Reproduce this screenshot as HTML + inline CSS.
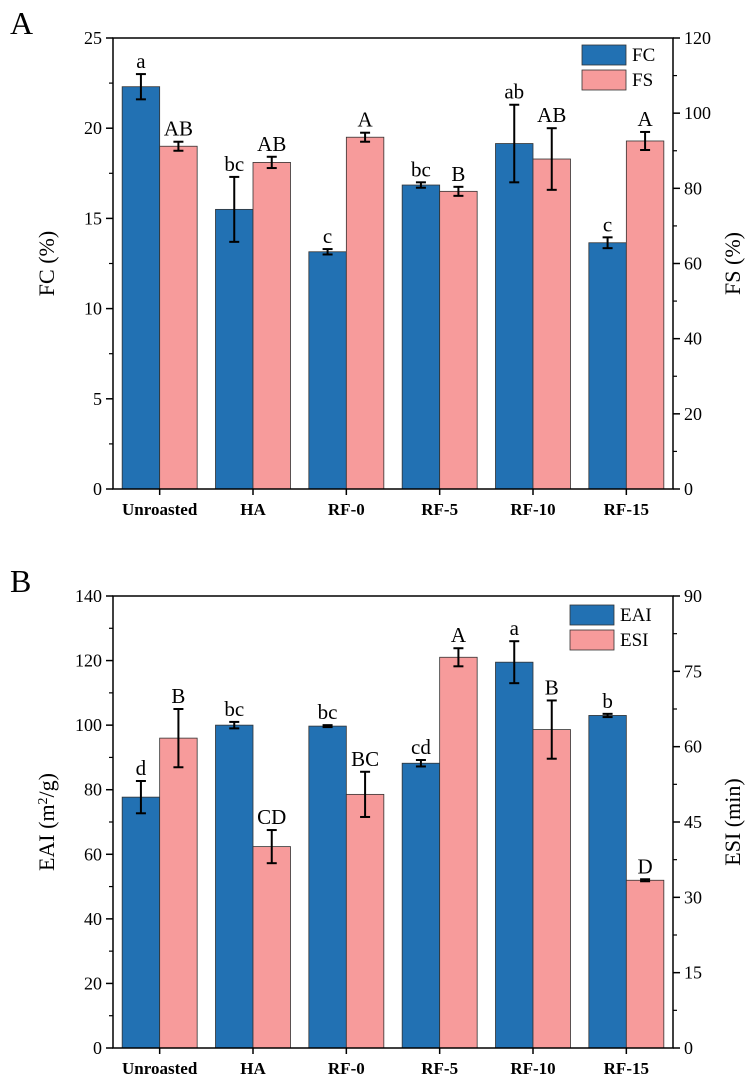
<!DOCTYPE html>
<html><head><meta charset="utf-8"><style>
body{margin:0;background:#fff;}
svg{display:block;font-family:"Liberation Serif",serif;}
</style></head><body>
<svg id="fig" width="754" height="1088"></svg>
<script>
const categories=["Unroasted","HA","RF-0","RF-5","RF-10","RF-15"];
const fcValues=[22.3,15.5,13.15,16.85,19.15,13.65];
const fcErr=[0.7,1.8,0.15,0.15,2.15,0.3];
const fcLetters=["a","bc","c","bc","ab","c"];
const fsValues=[91.2,86.9,93.6,79.2,87.8,92.6];
const fsErr=[1.2,1.5,1.2,1.2,8.2,2.4];
const fsLetters=["AB","AB","A","B","AB","A"];
const eaiValues=[77.7,100,99.7,88.2,119.5,103];
const eaiErr=[5,1,0.3,1,6.5,0.5];
const eaiLetters=["d","bc","bc","cd","a","b"];
const esiValues=[61.7,40.1,50.5,77.8,63.4,33.4];
const esiErr=[5.8,3.3,4.5,1.8,5.8,0.2];
const esiLetters=["B","CD","BC","A","B","D"];
const leftTicksA=[0,5,10,15,20,25];
const rightTicksA=[0,20,40,60,80,100,120];
const leftTicksB=[0,20,40,60,80,100,120,140];
const rightTicksB=[0,15,30,45,60,75,90];

const NS="http://www.w3.org/2000/svg";
const svg=document.getElementById('fig');
function el(tag,attrs,parent,text){const e=document.createElementNS(NS,tag);for(const k in attrs)e.setAttribute(k,attrs[k]);if(text!==undefined)e.textContent=text;(parent||svg).appendChild(e);return e;}

function panel(o){
  const X0=113,X1=673,T=o.top,B=o.bottom;
  const g=el('g',{});
  
  
  const yl=v=>B-(v/o.lmax)*(B-T);
  const yr=v=>B-(v/o.rmax)*(B-T);
  const gw=(X1-X0)/categories.length, bw=37.5;
  const xc=i=>X0+gw*(i+0.5);
  function bar(x,v,e,lab,yf,fill,name){
    const y=yf(v);
    const r=el('rect',{x:x,y:y,width:bw,height:B-y,fill:fill,stroke:'#333',"stroke-width":0.8},g);
    
    
    const cx=x+bw/2,y1=yf(v+e),y2=yf(v-e);
    el('line',{x1:cx,x2:cx,y1:y1,y2:y2,stroke:'#000',"stroke-width":2},g);
    el('line',{x1:cx-5,x2:cx+5,y1:y1,y2:y1,stroke:'#000',"stroke-width":2},g);
    el('line',{x1:cx-5,x2:cx+5,y1:y2,y2:y2,stroke:'#000',"stroke-width":2},g);
    const t=el('text',{x:cx,y:y1-6,"text-anchor":"middle","font-size":21},g,lab);
    
    
  }
  for(let i=0;i<categories.length;i++){
    bar(xc(i)-bw,o.a[i],o.ae[i],o.al[i],yl,'#2271b3',o.an+'-bar-'+categories[i]);
    bar(xc(i),o.b[i],o.be[i],o.bl[i],yr,'#f79b9b',o.bn+'-bar-'+categories[i]);
    el('line',{x1:xc(i),x2:xc(i),y1:B,y2:B+6,stroke:'#000',"stroke-width":1.5},g);
    const t=el('text',{x:xc(i),y:B+26,"text-anchor":"middle","font-size":17,"font-weight":"bold"},g,categories[i]);
    
    
  }
  el('rect',{x:X0,y:T,width:X1-X0,height:B-T,fill:'none',stroke:'#000',"stroke-width":1.5},g);
  o.lt.forEach((v,k)=>{const y=yl(v);el('line',{x1:X0-7,x2:X0,y1:y,y2:y,stroke:'#000',"stroke-width":1.5},g);
    if(k<o.lt.length-1){const ym=yl((v+o.lt[k+1])/2);el('line',{x1:X0-4,x2:X0,y1:ym,y2:ym,stroke:'#000',"stroke-width":1.2},g);}
    el('text',{x:X0-11,y:y+6,"text-anchor":"end","font-size":18},g,v);});
  o.rt.forEach((v,k)=>{const y=yr(v);el('line',{x1:X1,x2:X1+7,y1:y,y2:y,stroke:'#000',"stroke-width":1.5},g);
    if(k<o.rt.length-1){const ym=yr((v+o.rt[k+1])/2);el('line',{x1:X1,x2:X1+4,y1:ym,y2:ym,stroke:'#000',"stroke-width":1.2},g);}
    el('text',{x:X1+11,y:y+6,"text-anchor":"start","font-size":18},g,v);});
  const my=(T+B)/2;
  const lt=el('text',{x:0,y:0,"text-anchor":"middle","font-size":22,transform:`translate(54,${my}) rotate(-90)`},g);
  lt.innerHTML=o.ltitle;
  
  
  const rt=el('text',{x:0,y:0,"text-anchor":"middle","font-size":22,transform:`translate(740,${my}) rotate(-90)`},g,o.rtitle);
  
  
  const pl=el('text',{x:10,y:T-4,"font-size":32},g,o.letter);
  
  
  const lx=o.legX, ly=T+o.legDy;
  const l1=el('rect',{x:lx,y:ly,width:44,height:20,fill:'#2271b3',stroke:'#333',"stroke-width":0.8},g);
  
  
  el('text',{x:lx+50,y:ly+16,"font-size":19},g,o.an);
  const l2=el('rect',{x:lx,y:ly+25,width:44,height:20,fill:'#f79b9b',stroke:'#333',"stroke-width":0.8},g);
  
  
  el('text',{x:lx+50,y:ly+41,"font-size":19},g,o.bn);
}
panel({name:'panel-a',top:38,bottom:489,lmax:25,rmax:120,a:fcValues,ae:fcErr,al:fcLetters,b:fsValues,be:fsErr,bl:fsLetters,an:'FC',bn:'FS',lt:leftTicksA,rt:rightTicksA,ltitle:'FC (%)',rtitle:'FS (%)',letter:'A',legX:582,legDy:7});
panel({name:'panel-b',top:596,bottom:1048,lmax:140,rmax:90,a:eaiValues,ae:eaiErr,al:eaiLetters,b:esiValues,be:esiErr,bl:esiLetters,an:'EAI',bn:'ESI',lt:leftTicksB,rt:rightTicksB,ltitle:'EAI (m<tspan baseline-shift="super" font-size="14">2</tspan>/g)',rtitle:'ESI (min)',letter:'B',legX:570,legDy:9});
</script>
</body></html>
